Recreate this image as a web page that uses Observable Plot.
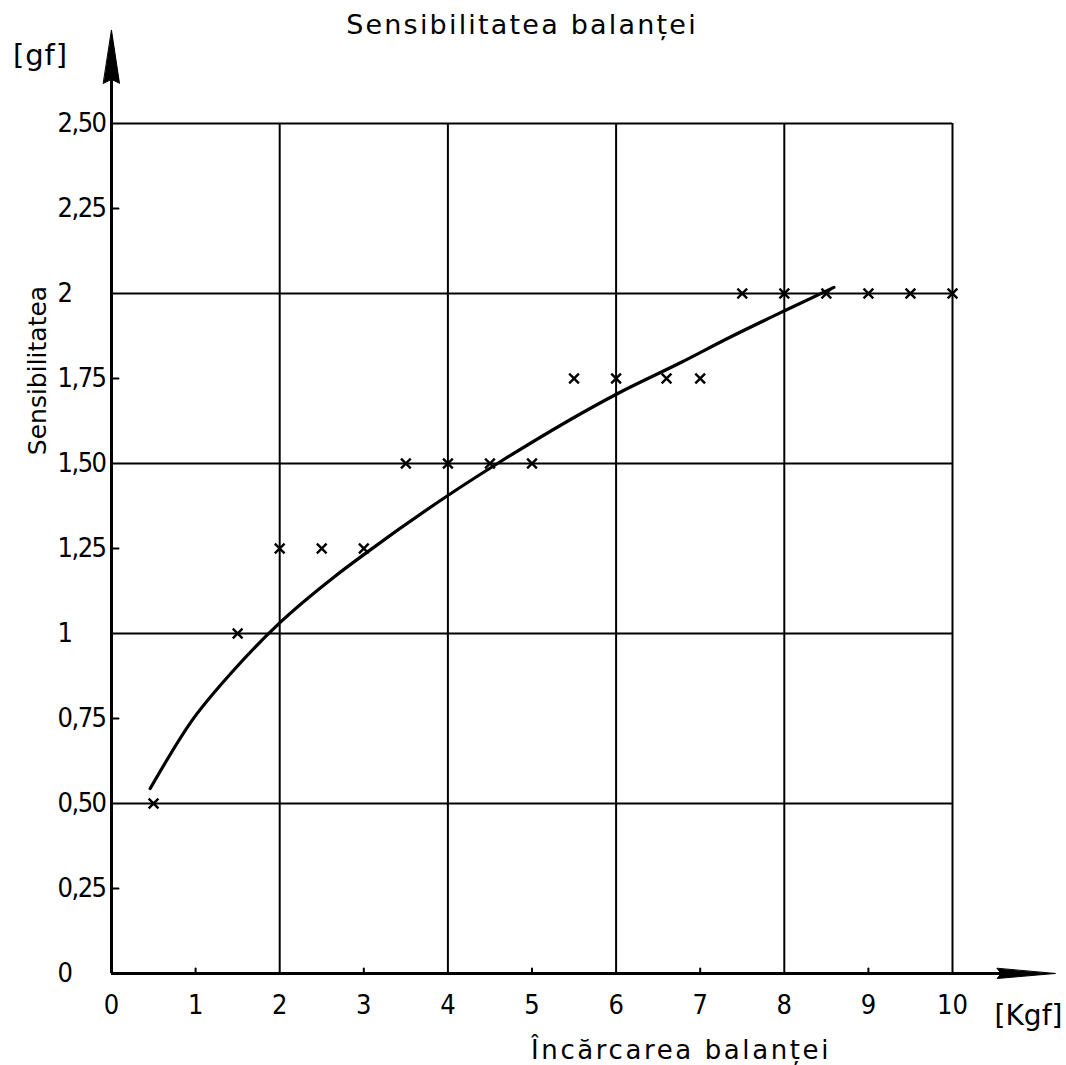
<!DOCTYPE html>
<html><head><meta charset="utf-8">
<script src="https://cdn.jsdelivr.net/npm/d3@7"></script>
<script src="https://cdn.jsdelivr.net/npm/@observablehq/plot@0.6"></script>
<style>html,body{margin:0;padding:0;background:#fff} svg{display:block}</style>
</head><body><div id="chart"></div>
<script>
// ---- data ----
const xPoints = [0.5, 1.5, 2, 2.5, 3, 3.5, 4, 4.5, 5, 5.5, 6, 6.6, 7, 7.5, 8, 8.5, 9, 9.5, 10];
const yPoints = [0.5, 1.0, 1.25, 1.25, 1.25, 1.5, 1.5, 1.5, 1.5, 1.75, 1.75, 1.75, 1.75, 2, 2, 2, 2, 2, 2];
const curveX = [0.46, 0.94, 1.45, 1.99, 2.64, 3.0, 4.0, 4.59, 6.02, 6.77, 7.36, 8.01, 8.59];
const curveY = [0.544, 0.738, 0.891, 1.029, 1.165, 1.232, 1.406, 1.5, 1.706, 1.797, 1.872, 1.95, 2.018];
const xTicks = [0, 1, 2, 3, 4, 5, 6, 7, 8, 9, 10];
const xTickLabels = ["0", "1", "2", "3", "4", "5", "6", "7", "8", "9", "10"];
const yTicks = [0, 0.25, 0.5, 0.75, 1, 1.25, 1.5, 1.75, 2, 2.25, 2.5];
const yTickLabels = ["0", "0,25", "0,50", "0,75", "1", "1,25", "1,50", "1,75", "2", "2,25", "2,50"];
const xGrid = [2, 4, 6, 8, 10];
const yGrid = [0.5, 1, 1.5, 2, 2.5];
const xMinor = [1, 3, 5, 7, 9];
const yMinor = [0.25, 0.75, 1.25, 1.75, 2.25];
const xAxisEnd = [11.22];
const yAxisEnd = [2.774];
const title = "Sensibilitatea balanței";
const xLabel = "Încărcarea balanței";
const yLabel = "Sensibilitatea";
const xUnit = "Kgf";
const yUnit = "gf";

// ---- build ----
const points = xPoints.map((x, i) => ({x, y: yPoints[i]}));
const curve = curveX.map((x, i) => ({x, y: curveY[i]}));
const xLab = new Map(xTicks.map((t, i) => [t, xTickLabels[i]]));
const yLab = new Map(yTicks.map((t, i) => [t, yTickLabels[i]]));

const FONT = "'DejaVu Sans Condensed', 'DejaVu Sans', sans-serif";
const LFONT = "'DejaVu Sans', sans-serif";

const head = {draw(ctx, l, r) { ctx.moveTo(0, -l); ctx.lineTo(r, 0); ctx.lineTo(0, -4); ctx.lineTo(-r, 0); ctx.closePath(); }};
const spike = {draw(ctx, l) { ctx.moveTo(0, 0); ctx.lineTo(0, -l); }};

const plot = Plot.plot({
  width: 1066,
  height: 1065,
  marginLeft: 111,
  marginRight: 114,
  marginTop: 123,
  marginBottom: 92,
  x: {domain: [0, 10], axis: null},
  y: {domain: [0, 2.5], axis: null},
  style: {fontFamily: FONT, color: "black", background: "white", overflow: "visible"},
  marks: [
    Plot.ruleX(xGrid, {stroke: "black", strokeWidth: 2}),
    Plot.ruleY(yGrid, {stroke: "black", strokeWidth: 2}),
    // axes lines
    Plot.ruleY([0], {x1: 0, x2: xAxisEnd[0] - 0.3, stroke: "black", strokeWidth: 3, clip: false}),
    Plot.ruleX([0], {y1: 0, y2: yAxisEnd[0] - 0.05, stroke: "black", strokeWidth: 3, clip: false}),
    Plot.vector(yAxisEnd, {x: () => 0, y: d => d, length: 53, r: 8, rotate: 0, anchor: "end", shape: head, fill: "black", stroke: "black", strokeWidth: 1}),
    Plot.vector(xAxisEnd, {x: d => d, y: () => 0, length: 58, r: 5, rotate: 90, anchor: "end", shape: head, fill: "black", stroke: "black", strokeWidth: 1}),
    // minor ticks
    Plot.vector(xMinor, {x: d => d, y: () => 0, length: 5, rotate: 0, anchor: "start", shape: spike, stroke: "black", strokeWidth: 2}),
    Plot.vector(yMinor, {x: () => 0, y: d => d, length: 7, rotate: 90, anchor: "start", shape: spike, stroke: "black", strokeWidth: 2}),
    // axes labels
    Plot.axisX({ticks: xTicks, tickFormat: d => xLab.get(d), label: null, tickSize: 0, tickPadding: 0, dy: 21, fontSize: 27, fontFamily: FONT, fill: "black"}),
    Plot.axisY({ticks: yTicks, tickFormat: d => yLab.get(d), label: null, tickSize: 0, tickPadding: 0, dx: -54, textAnchor: "start", fontSize: 27, fontFamily: FONT, fill: "black"}),
    // curve and points
    Plot.line(curve, {x: "x", y: "y", curve: "monotone-x", stroke: "black", strokeWidth: 3.2}),
    Plot.dot(points, {x: "x", y: "y", symbol: "times", r: 4.5, stroke: "black", strokeWidth: 2.4}),
    // texts
    Plot.text([title], {text: d => d, frameAnchor: "top", textAnchor: "middle", lineAnchor: "middle", dx: -10, dy: -98, fontSize: 27, fontFamily: LFONT, fill: "black"}),
    Plot.text([xLabel], {text: d => d, frameAnchor: "bottom", textAnchor: "middle", lineAnchor: "middle", dx: 149, dy: 77, fontSize: 26, fontFamily: LFONT, fill: "black"}),
    Plot.text([yLabel], {text: d => d, frameAnchor: "left", textAnchor: "middle", lineAnchor: "middle", dx: -74, dy: -178, rotate: -90, fontSize: 25, fontFamily: LFONT, fill: "black"}),
    Plot.text(["[" + yUnit + "]"], {text: d => d, frameAnchor: "top-left", textAnchor: "middle", lineAnchor: "middle", dx: -71, dy: -68, fontSize: 29, fontFamily: LFONT, fill: "black"}),
    Plot.text(["[" + xUnit + "]"], {text: d => d, frameAnchor: "bottom-right", textAnchor: "middle", lineAnchor: "middle", dx: 76, dy: 43, fontSize: 28, fontFamily: LFONT, fill: "black"})
  ]
});

// letter spacing of the lettering
const spacing = new Map([[title, "2.2px"], [xLabel, "2.6px"], ["[" + yUnit + "]", "1px"]]);
d3.select(plot).selectAll("text").each(function() {
  const t = this.textContent;
  if (spacing.has(t)) this.setAttribute("letter-spacing", spacing.get(t));
  else if (yTickLabels.includes(t) && t.includes(",")) this.setAttribute("letter-spacing", "-1.5px");
});
document.getElementById("chart").appendChild(plot);
</script>
</body></html>
